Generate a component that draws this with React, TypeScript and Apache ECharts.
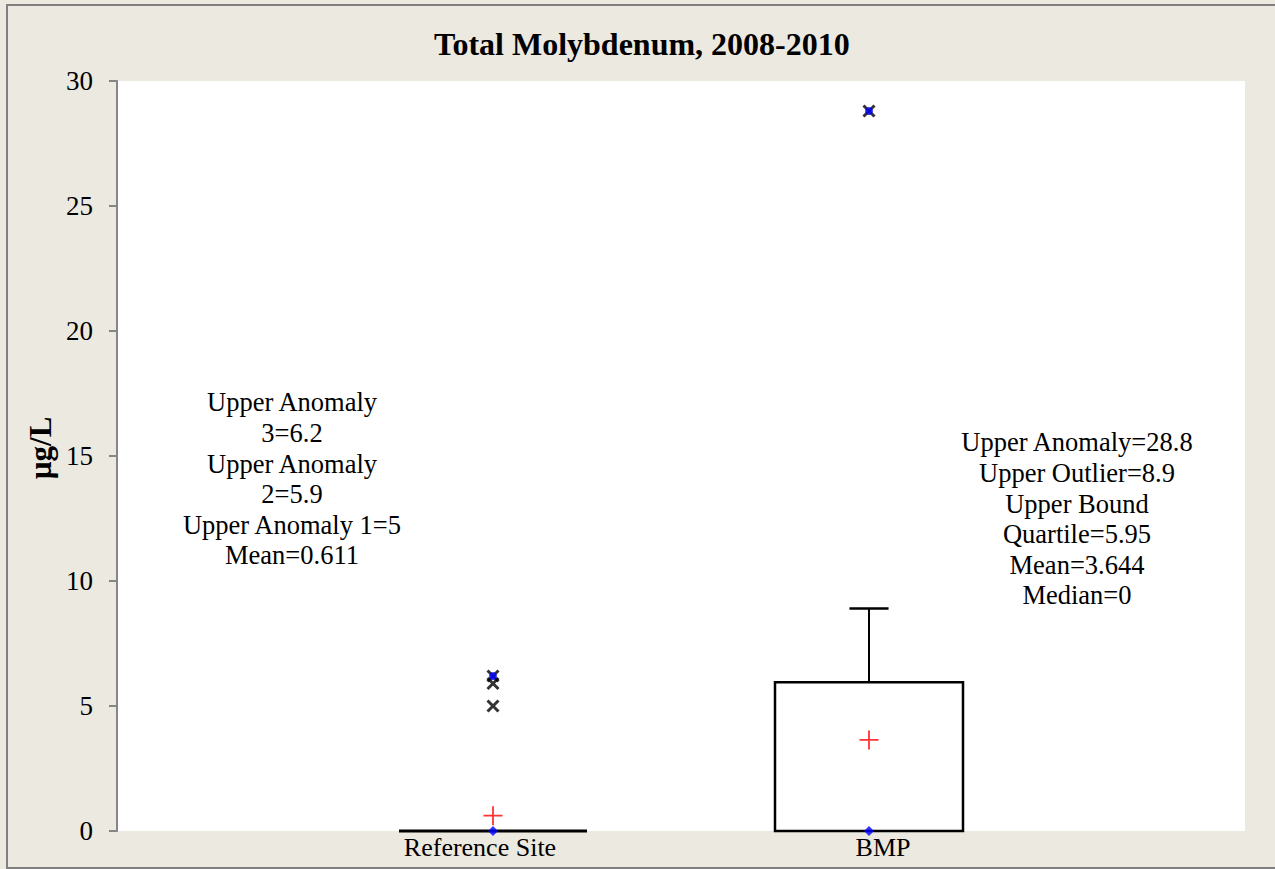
import React, { useEffect, useRef } from "react";
import * as echarts from "echarts";

const categories = ["Reference Site", "BMP"];
// [x, whiskerLow, q1, median, q3, whiskerHigh]
const boxes = [
  [1, 0, 0, 0, 0, 0],
  [2, 0, 0, 0, 5.95, 8.9],
];
const means = [
  [1, 0.611],
  [2, 3.644],
];
const anomalies = [
  [1, 5],
  [1, 5.9],
  [1, 6.2],
  [2, 28.8],
];
const maxPoints = [
  [1, 6.2],
  [2, 28.8],
];
const medians = [
  [1, 0],
  [2, 0],
];
const yTicks = [0, 5, 10, 15, 20, 25, 30];
const leftNote = [
  "Upper Anomaly",
  "3=6.2",
  "Upper Anomaly",
  "2=5.9",
  "Upper Anomaly 1=5",
  "Mean=0.611",
];
const rightNote = [
  "Upper Anomaly=28.8",
  "Upper Outlier=8.9",
  "Upper Bound",
  "Quartile=5.95",
  "Mean=3.644",
  "Median=0",
];

const FONT = "'Liberation Serif', 'Times New Roman', serif";

export default function App() {
  const ref = useRef<HTMLDivElement>(null);
  useEffect(() => {
    const chart = echarts.init(ref.current!, null, { renderer: "svg" });
    const labelStyle = { fontFamily: FONT, fontSize: 26, color: "#000" };
    chart.setOption({
      animation: false,
      backgroundColor: "#ECE9E0",
      textStyle: { fontFamily: FONT },
      title: {
        text: "Total Molybdenum, 2008-2010",
        left: 429,
        top: 23,
        textStyle: { fontFamily: FONT, fontSize: 32, fontWeight: "bold", color: "#000" },
      },
      grid: {
        left: 117,
        right: 30,
        top: 81,
        bottom: 38,
        show: true,
        backgroundColor: "#ffffff",
        borderWidth: 0,
      },
      xAxis: {
        type: "value",
        min: 0,
        max: 3,
        interval: 1,
        axisLine: { show: false },
        axisTick: { show: false },
        splitLine: { show: false },
        axisLabel: {
          ...labelStyle,
          margin: 3,
          formatter: (v: number) =>
            v === 1 ? `{a|${categories[0]}}` : v === 2 ? `{b|${categories[1]}}` : "",
          rich: {
            a: { ...labelStyle, padding: [0, 26, 0, 0] },
            b: { ...labelStyle, padding: [0, 0, 0, 28] },
          },
        },
      },
      yAxis: {
        type: "value",
        min: 0,
        max: 30,
        interval: 5,
        axisLine: { show: true, lineStyle: { color: "#868686", width: 2 } },
        axisTick: { show: true, length: 8, lineStyle: { color: "#868686", width: 2 } },
        splitLine: { show: false },
        axisLabel: {
          ...labelStyle,
          fontSize: 27,
          margin: 24,
          formatter: (v: number) => (yTicks.includes(v) ? String(v) : ""),
        },
      },
      graphic: [
        {
          type: "rect",
          shape: { x: 7, y: 5, width: 1280, height: 863 },
          style: { fill: "none", stroke: "#808080", lineWidth: 2 },
          silent: true,
        },
        {
          type: "text",
          x: 40,
          y: 448,
          rotation: Math.PI / 2,
          style: {
            text: "µg/L",
            fontFamily: FONT,
            fontSize: 31,
            fontWeight: "bold",
            fill: "#000",
            align: "center",
            verticalAlign: "middle",
          },
        },
        {
          type: "text",
          x: 292,
          y: 387,
          style: {
            text: leftNote.join("\n"),
            fontFamily: FONT,
            fontSize: 26.5,
            lineHeight: 30.6,
            fill: "#000",
            align: "center",
          },
        },
        {
          type: "text",
          x: 1077,
          y: 427,
          style: {
            text: rightNote.join("\n"),
            fontFamily: FONT,
            fontSize: 26.5,
            lineHeight: 30.6,
            fill: "#000",
            align: "center",
          },
        },
      ],
      series: [
        {
          type: "custom",
          data: boxes,
          z: 2,
          renderItem: (params: any, api: any) => {
            const x = api.value(0);
            const lo = api.value(1);
            const q1 = api.value(2);
            const q3 = api.value(4);
            const hi = api.value(5);
            const half = api.size([0.25, 0])[0];
            const capHalf = api.size([0.052, 0])[0];
            const pQ1 = api.coord([x, q1]);
            const pQ3 = api.coord([x, q3]);
            const pHi = api.coord([x, hi]);
            const pLo = api.coord([x, lo]);
            const children: any[] = [];
            const ls = { stroke: "#000", lineWidth: 2.5, fill: "none" };
            if (hi > q3) {
              children.push({
                type: "line",
                shape: { x1: pQ3[0], y1: pQ3[1], x2: pHi[0], y2: pHi[1] },
                style: { stroke: "#000", lineWidth: 2 },
              });
              children.push({
                type: "line",
                shape: { x1: pHi[0] - capHalf, y1: pHi[1], x2: pHi[0] + capHalf, y2: pHi[1] },
                style: { stroke: "#000", lineWidth: 2.5 },
              });
            }
            if (lo < q1) {
              children.push({
                type: "line",
                shape: { x1: pQ1[0], y1: pQ1[1], x2: pLo[0], y2: pLo[1] },
                style: { stroke: "#000", lineWidth: 2 },
              });
            }
            if (q3 > q1) {
              children.push({
                type: "rect",
                shape: { x: pQ1[0] - half, y: pQ3[1], width: half * 2, height: pQ1[1] - pQ3[1] },
                style: ls,
              });
            } else {
              children.push({
                type: "line",
                shape: { x1: pQ1[0] - half, y1: pQ1[1], x2: pQ1[0] + half, y2: pQ1[1] },
                style: { stroke: "#000", lineWidth: 3 },
              });
            }
            return { type: "group", children };
          },
        },
        {
          type: "scatter",
          data: anomalies,
          symbol: "path://M-1,-1 L1,1 M1,-1 L-1,1",
          symbolSize: 11,
          z: 3,
          itemStyle: { color: "none", borderColor: "#000", borderWidth: 3 },
        },
        {
          type: "scatter",
          data: maxPoints,
          symbol: "circle",
          symbolSize: 8,
          z: 4,
          itemStyle: { color: "#0000FF" },
        },
        {
          type: "scatter",
          data: means,
          symbol: "path://M0,-1 L0,1 M-1,0 L1,0",
          symbolSize: 19,
          z: 4,
          itemStyle: { color: "none", borderColor: "#FF0000", borderWidth: 1.8 },
        },
        {
          type: "scatter",
          data: medians,
          symbol: "diamond",
          symbolSize: 10,
          z: 5,
          itemStyle: { color: "#0000FF" },
        },
      ],
    });
    return () => chart.dispose();
  }, []);
  return (
    <div
      ref={ref}
      style={{ position: "fixed", left: 0, top: 0, width: 1275, height: 869 }}
    />
  );
}
